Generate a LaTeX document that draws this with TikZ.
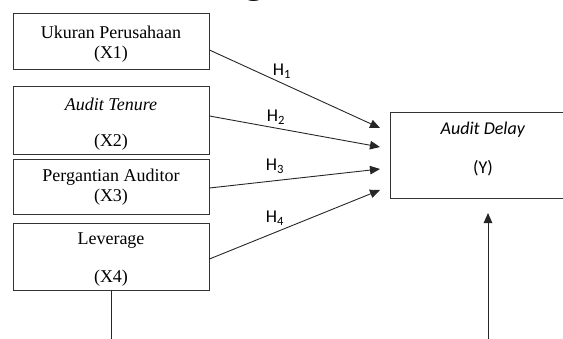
\documentclass[tikz,border=0pt]{standalone}
\usepackage{fontspec}
\setmainfont{Liberation Serif}
\newfontfamily\calibfont{Carlito}
\usetikzlibrary{arrows.meta}

\begin{document}
\begin{tikzpicture}[x=1pt, y=-1pt,
    varbox/.style={draw=black!80, line width=0.9pt, minimum width=196pt, inner sep=0pt},
    vartext/.style={font=\fontsize{18}{22}\selectfont, inner sep=0pt},
    hyptext/.style={font=\calibfont\fontsize{18}{22}\selectfont, inner sep=0pt},
    hyp/.style={draw=black!85, line width=0.9pt, -{Triangle[length=10pt, width=8.5pt]}}]

        \useasboundingbox (0,0) rectangle (563,338);

        % Heading (cut off at the top)
        \node[font=\bfseries\fontsize{36}{40}\selectfont, anchor=base, inner sep=0pt] (head) at (254,-6.5) {g};

        % Independent variables
        \node[varbox, minimum height=56pt] (x1) at (111,41) {};
        \node[vartext] (x1name) at (111,32) {Ukuran Perusahaan};
        \node[vartext] (x1code) at (111,54) {(X1)};

        \node[varbox, minimum height=68pt] (x2) at (111,120) {};
        \node[vartext] (x2name) at (111,104) {\textit{Audit Tenure}};
        \node[vartext] (x2code) at (111,142) {(X2)};

        \node[varbox, minimum height=55pt] (x3) at (111,186.5) {};
        \node[vartext] (x3name) at (111,177) {Pergantian Auditor};
        \node[vartext] (x3code) at (111,197) {(X3)};

        \node[varbox, minimum height=67pt] (x4) at (111,256.5) {};
        \node[vartext] (x4name) at (111,241) {Leverage};
        \node[vartext] (x4code) at (111,278) {(X4)};

        % Dependent variable
        \node[varbox, minimum width=180pt, minimum height=86pt] (y) at (480,155) {};
        \node[hyptext] (yname) at (483,130) {\textit{Audit Delay}};
        \node[hyptext] (ycode) at (483,168) {(Y)};

        % Hypotheses
        \coordinate (t1) at (380,128);
        \coordinate (t2) at (380,147);
        \coordinate (t3) at (380,169);
        \coordinate (t4) at (380,190);

        \draw[hyp] ([yshift=-9pt]x1.east) -- (t1);
        \draw[hyp] ([yshift=4pt]x2.east) -- (t2);
        \draw[hyp] ([yshift=-1.5pt]x3.east) -- (t3);
        \draw[hyp] ([yshift=-2.5pt]x4.east) -- (t4);

        \node[hyptext] (h1) at (282,71) {H\textsubscript{1}};
        \node[hyptext] (h2) at (276,117) {H\textsubscript{2}};
        \node[hyptext] (h3) at (275,166) {H\textsubscript{3}};
        \node[hyptext] (h4) at (275,218) {H\textsubscript{4}};

        % Lines running off the page
        \coordinate (x4down) at (111,342);
        \coordinate (yfrom) at (488,342);
        \coordinate (ytip) at (488,213);
        \draw[draw=black!85, line width=0.9pt] (x4.south) -- (x4down);
        \draw[hyp] (yfrom) -- (ytip);

\end{tikzpicture}
\end{document}
